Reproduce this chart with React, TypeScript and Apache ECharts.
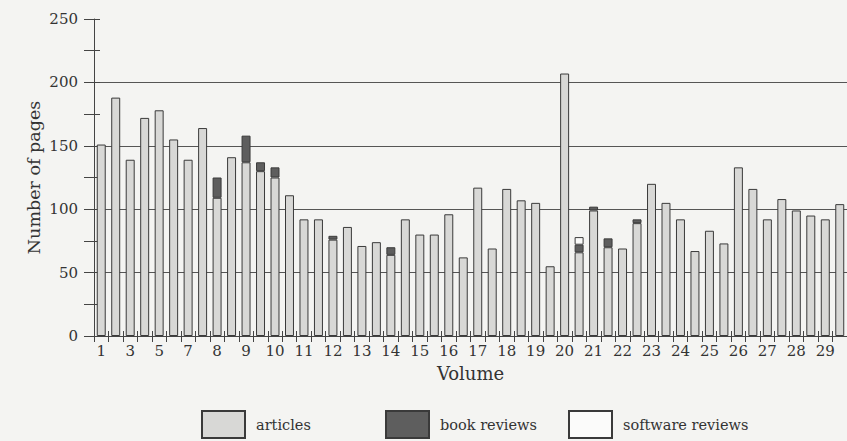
import React, { useEffect, useRef } from "react";
import * as echarts from "echarts";

const issueLabels = [
  "1", "", "3", "", "5", "", "7", "", "8", "", "9", "", "10", "", "11", "", "12", "",
  "13", "", "14", "", "15", "", "16", "", "17", "", "18", "", "19", "", "20", "",
  "21", "", "22", "", "23", "", "24", "", "25", "", "26", "", "27", "", "28", "", "29", "",
];

const articles = [
  151, 188, 139, 172, 178, 155, 139, 164, 109, 141, 137, 130, 125, 111, 92, 92,
  76, 86, 71, 74, 64, 92, 80, 80, 96, 62, 117, 69, 116, 107, 105, 55,
  207, 66, 99, 70, 69, 89, 120, 105, 92, 67, 83, 73, 133, 116, 92, 108,
  99, 95, 92, 104,
];

const bookReviews = [
  0, 0, 0, 0, 0, 0, 0, 0, 16, 0, 21, 7, 8, 0, 0, 0,
  3, 0, 0, 0, 6, 0, 0, 0, 0, 0, 0, 0, 0, 0, 0, 0,
  0, 6, 3, 7, 0, 3, 0, 0, 0, 0, 0, 0, 0, 0, 0, 0,
  0, 0, 0, 0,
];

const softwareReviews = [
  0, 0, 0, 0, 0, 0, 0, 0, 0, 0, 0, 0, 0, 0, 0, 0,
  0, 0, 0, 0, 0, 0, 0, 0, 0, 0, 0, 0, 0, 0, 0, 0,
  0, 6, 0, 0, 0, 0, 0, 0, 0, 0, 0, 0, 0, 0, 0, 0,
  0, 0, 0, 0,
];

const FONT = "DejaVu Serif";
const TEXT = "#333";
const LINE = "#444";

export default function App() {
  const ref = useRef<HTMLDivElement>(null);
  useEffect(() => {
    if (!ref.current) return;
    const chart = echarts.init(ref.current, null, { renderer: "svg" });
    const nz = (a: number[]) => a.map((v) => (v > 0 ? v : null));
    const barBase = {
      type: "bar",
      stack: "pages",
      xAxisIndex: 0,
      yAxisIndex: 0,
      barCategoryGap: "38%",
    };
    const legendCommon = {
      top: 410,
      padding: 0,
      itemWidth: 43,
      itemHeight: 27,
      icon: "rect",
      textStyle: { fontFamily: FONT, fontSize: 14.5, color: TEXT, padding: [0, 0, 0, 6] },
    };
    chart.setOption({
      animation: false,
      backgroundColor: "#f4f4f2",
      grid: { left: 94, top: 19, width: 754, height: 317 },
      legend: [
        { ...legendCommon, left: 201, data: ["articles"] },
        { ...legendCommon, left: 385, data: ["book reviews"] },
        { ...legendCommon, left: 568, data: ["software reviews"] },
      ],
      xAxis: [
        {
          type: "category",
          data: issueLabels,
          name: "Volume",
          nameLocation: "middle",
          nameGap: 28,
          nameMoveOverlap: false,
          nameTextStyle: { fontFamily: FONT, fontSize: 18, color: TEXT },
          axisLine: { show: true, lineStyle: { color: LINE, width: 1 } },
          axisTick: { show: true, interval: 0, length: 6, lineStyle: { color: LINE } },
          axisLabel: { interval: 0, fontFamily: FONT, fontSize: 15, color: TEXT, margin: 7 },
          splitLine: { show: false },
        },
        {
          type: "category",
          data: issueLabels,
          position: "bottom",
          axisLine: { show: false },
          axisTick: { show: true, inside: true, interval: 0, length: 5, lineStyle: { color: LINE } },
          axisLabel: { show: false },
          splitLine: { show: false },
        },
      ],
      yAxis: [
        {
          type: "value",
          min: 0,
          max: 250,
          interval: 25,
          name: "Number of pages",
          nameLocation: "middle",
          nameGap: 51,
          nameMoveOverlap: false,
          nameTextStyle: { fontFamily: FONT, fontSize: 17.5, color: TEXT },
          axisLine: { show: true, lineStyle: { color: LINE, width: 1 } },
          axisTick: { show: true, length: 10, lineStyle: { color: LINE } },
          axisLabel: {
            fontFamily: FONT,
            fontSize: 15,
            color: TEXT,
            margin: 16,
            formatter: (v: number) => (v % 50 === 0 ? String(v) : ""),
          },
          splitLine: {
            show: true,
            lineStyle: {
              color: [
                "rgba(0,0,0,0)", "rgba(0,0,0,0)", "#555", "rgba(0,0,0,0)", "#555",
                "rgba(0,0,0,0)", "#555", "rgba(0,0,0,0)", "#555", "rgba(0,0,0,0)", "rgba(0,0,0,0)",
              ],
              width: 1,
            },
          },
        },
        {
          type: "value",
          min: 0,
          max: 250,
          interval: 25,
          position: "left",
          axisLine: { show: false },
          axisTick: { show: true, inside: true, length: 6, lineStyle: { color: LINE } },
          axisLabel: { show: false },
          splitLine: { show: false },
        },
      ],
      series: [
        {
          ...barBase,
          name: "articles",
          data: nz(articles),
          itemStyle: { color: "#d8d8d6", borderColor: "#3a3a3a", borderWidth: 1 },
        },
        {
          ...barBase,
          name: "book reviews",
          data: nz(bookReviews),
          itemStyle: { color: "#5e5e5e", borderColor: "#3a3a3a", borderWidth: 1 },
        },
        {
          ...barBase,
          name: "software reviews",
          data: nz(softwareReviews),
          itemStyle: { color: "#fbfbfa", borderColor: "#3a3a3a", borderWidth: 1 },
        },
      ],
    });
    return () => chart.dispose();
  }, []);
  return (
    <div
      ref={ref}
      style={{ position: "absolute", left: 0, top: 0, width: 847, height: 441 }}
    />
  );
}
